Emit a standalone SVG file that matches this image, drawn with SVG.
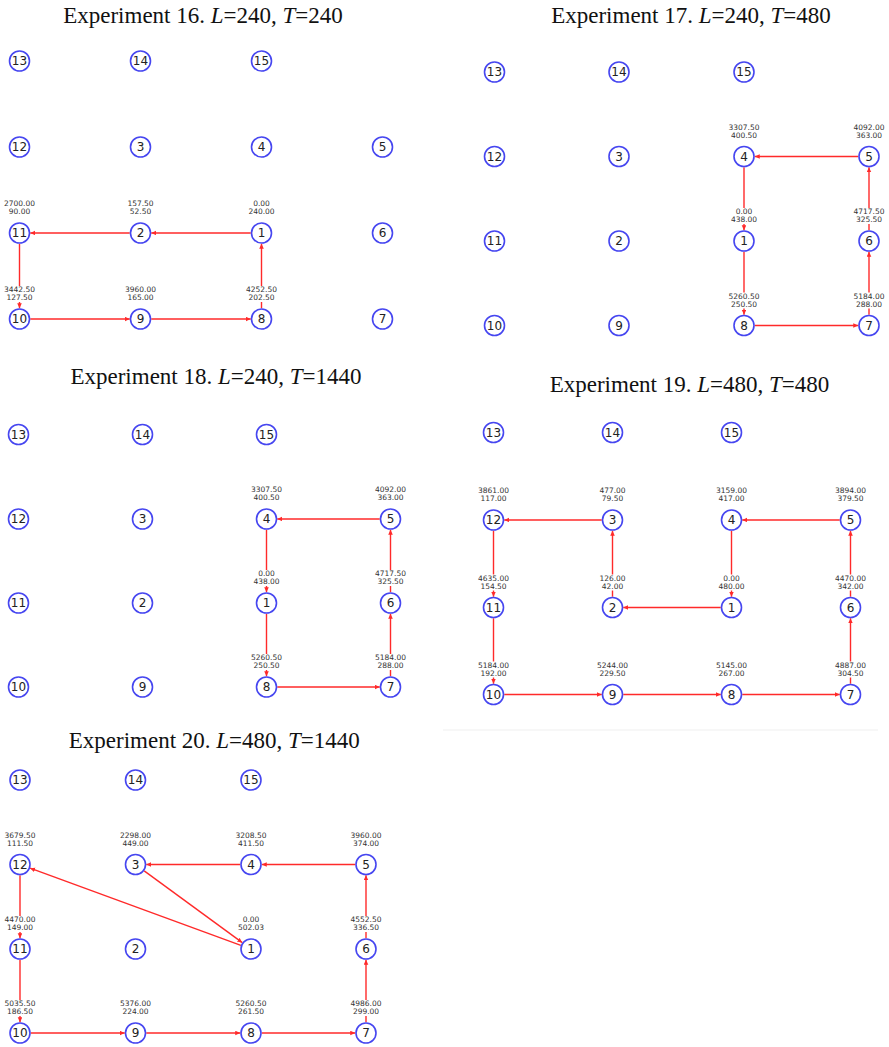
<svg xmlns="http://www.w3.org/2000/svg" width="889" height="1047" viewBox="0 0 889 1047">
<defs>
<marker id="ah" markerUnits="userSpaceOnUse" markerWidth="6" markerHeight="6" refX="5" refY="2.3" orient="auto">
<path d="M0,0 L5,2.3 L0,4.6 z" fill="#ff2a2a"/>
</marker>
<style>
.ttl{font-family:"Liberation Serif","Times New Roman",serif;font-size:23px;text-anchor:middle;fill:#111}
.ttl tspan.i{font-style:italic}
.nd circle{fill:#fff;stroke:#4646f0;stroke-width:1.6}
.nd .id{font-family:"DejaVu Sans",sans-serif;font-size:12px;text-anchor:middle;fill:#222}
.nd .lb{fill:#fff}
.nd .v{font-family:"DejaVu Sans",sans-serif;font-size:7.5px;text-anchor:middle;fill:#333}
.e{stroke:#ff2a2a;stroke-width:1.4;fill:none;marker-end:url(#ah)}
.sep{stroke:#efefef;stroke-width:1}
</style>
</defs>
<rect width="889" height="1047" fill="#fff"/>

<!-- titles -->
<g id="titles">
<text class="ttl" x="203" y="22.7">Experiment 16. <tspan class="i">L</tspan>=240, <tspan class="i">T</tspan>=240</text>
<text class="ttl" x="691" y="23.3">Experiment 17. <tspan class="i">L</tspan>=240, <tspan class="i">T</tspan>=480</text>
<text class="ttl" x="216" y="384">Experiment 18. <tspan class="i">L</tspan>=240, <tspan class="i">T</tspan>=1440</text>
<text class="ttl" x="689.5" y="391.7">Experiment 19. <tspan class="i">L</tspan>=480, <tspan class="i">T</tspan>=480</text>
<text class="ttl" x="214.3" y="747.7">Experiment 20. <tspan class="i">L</tspan>=480, <tspan class="i">T</tspan>=1440</text>
</g>
<line class="sep" x1="443" y1="730" x2="878" y2="730"/>

<!-- connectors -->
<g id="connectors">
<!-- experiment 16 -->
<path class="e" d="M250.75,233 L151.25,233"/>
<path class="e" d="M129.75,233 L30.25,233"/>
<path class="e" d="M19.5,243.75 L19.5,308.25"/>
<path class="e" d="M30.25,319 L129.75,319"/>
<path class="e" d="M151.25,319 L250.75,319"/>
<path class="e" d="M261.5,308.25 L261.5,243.75"/>
<!-- experiment 17 -->
<path class="e" d="M858.25,156.5 L754.75,156.5"/>
<path class="e" d="M744,167.25 L744,230.25"/>
<path class="e" d="M744,251.75 L744,314.75"/>
<path class="e" d="M754.75,325.5 L858.25,325.5"/>
<path class="e" d="M869,314.75 L869,251.75"/>
<path class="e" d="M869,230.25 L869,167.25"/>
<!-- experiment 18 -->
<path class="e" d="M379.75,519 L277.25,519"/>
<path class="e" d="M266.5,529.75 L266.5,592.25"/>
<path class="e" d="M266.5,613.75 L266.5,676.25"/>
<path class="e" d="M277.25,687 L379.75,687"/>
<path class="e" d="M390.5,676.25 L390.5,613.75"/>
<path class="e" d="M390.5,592.25 L390.5,529.75"/>
<!-- experiment 19 -->
<path class="e" d="M601.75,520 L504.25,520"/>
<path class="e" d="M493.5,530.75 L493.5,596.75"/>
<path class="e" d="M493.5,618.25 L493.5,683.75"/>
<path class="e" d="M504.25,694.5 L601.75,694.5"/>
<path class="e" d="M623.25,694.5 L720.75,694.5"/>
<path class="e" d="M742.25,694.5 L839.75,694.5"/>
<path class="e" d="M850.5,683.75 L850.5,618.25"/>
<path class="e" d="M850.5,596.75 L850.5,530.75"/>
<path class="e" d="M839.75,520 L742.25,520"/>
<path class="e" d="M731.5,530.75 L731.5,596.75"/>
<path class="e" d="M720.75,607.5 L623.25,607.5"/>
<path class="e" d="M612.5,596.75 L612.5,530.75"/>
<!-- experiment 20 -->
<path class="e" d="M355.25,864.5 L261.75,864.5"/>
<path class="e" d="M240.25,864.5 L146.25,864.5"/>
<path class="e" d="M144.2,870.85 L242.3,942.65"/>
<path class="e" d="M240.9,945.3 L30.1,868.2"/>
<path class="e" d="M20,875.25 L20,938.25"/>
<path class="e" d="M20,959.75 L20,1022.25"/>
<path class="e" d="M30.75,1033 L124.75,1033"/>
<path class="e" d="M146.25,1033 L240.25,1033"/>
<path class="e" d="M261.75,1033 L355.25,1033"/>
<path class="e" d="M366,1022.25 L366,959.75"/>
<path class="e" d="M366,938.25 L366,875.25"/>
</g>

<!-- experiment 16 nodes -->
<g id="e16-n13" class="nd" transform="translate(19.5,61)"><circle r="10"/><text class="id" y="4.3">13</text></g>
<g id="e16-n14" class="nd" transform="translate(140.5,61)"><circle r="10"/><text class="id" y="4.3">14</text></g>
<g id="e16-n15" class="nd" transform="translate(261.5,61)"><circle r="10"/><text class="id" y="4.3">15</text></g>
<g id="e16-n12" class="nd" transform="translate(19.5,147)"><circle r="10"/><text class="id" y="4.3">12</text></g>
<g id="e16-n3" class="nd" transform="translate(140.5,147)"><circle r="10"/><text class="id" y="4.3">3</text></g>
<g id="e16-n4" class="nd" transform="translate(261.5,147)"><circle r="10"/><text class="id" y="4.3">4</text></g>
<g id="e16-n5" class="nd" transform="translate(382.5,147)"><circle r="10"/><text class="id" y="4.3">5</text></g>
<g id="e16-n11" class="nd" transform="translate(19.5,233)"><rect class="lb" x="-18" y="-33" width="36" height="16"/><text class="v" y="-26.7">2700.00</text><text class="v" y="-19">90.00</text><circle r="10"/><text class="id" y="4.3">11</text></g>
<g id="e16-n2" class="nd" transform="translate(140.5,233)"><rect class="lb" x="-18" y="-33" width="36" height="16"/><text class="v" y="-26.7">157.50</text><text class="v" y="-19">52.50</text><circle r="10"/><text class="id" y="4.3">2</text></g>
<g id="e16-n1" class="nd" transform="translate(261.5,233)"><rect class="lb" x="-18" y="-33" width="36" height="16"/><text class="v" y="-26.7">0.00</text><text class="v" y="-19">240.00</text><circle r="10"/><text class="id" y="4.3">1</text></g>
<g id="e16-n6" class="nd" transform="translate(382.5,233)"><circle r="10"/><text class="id" y="4.3">6</text></g>
<g id="e16-n10" class="nd" transform="translate(19.5,319)"><rect class="lb" x="-18" y="-33" width="36" height="16"/><text class="v" y="-26.7">3442.50</text><text class="v" y="-19">127.50</text><circle r="10"/><text class="id" y="4.3">10</text></g>
<g id="e16-n9" class="nd" transform="translate(140.5,319)"><rect class="lb" x="-18" y="-33" width="36" height="16"/><text class="v" y="-26.7">3960.00</text><text class="v" y="-19">165.00</text><circle r="10"/><text class="id" y="4.3">9</text></g>
<g id="e16-n8" class="nd" transform="translate(261.5,319)"><rect class="lb" x="-18" y="-33" width="36" height="16"/><text class="v" y="-26.7">4252.50</text><text class="v" y="-19">202.50</text><circle r="10"/><text class="id" y="4.3">8</text></g>
<g id="e16-n7" class="nd" transform="translate(382.5,319)"><circle r="10"/><text class="id" y="4.3">7</text></g>

<!-- experiment 17 nodes -->
<g id="e17-n13" class="nd" transform="translate(494.5,72)"><circle r="10"/><text class="id" y="4.3">13</text></g>
<g id="e17-n14" class="nd" transform="translate(619,72)"><circle r="10"/><text class="id" y="4.3">14</text></g>
<g id="e17-n15" class="nd" transform="translate(744,72)"><circle r="10"/><text class="id" y="4.3">15</text></g>
<g id="e17-n12" class="nd" transform="translate(494.5,156.5)"><circle r="10"/><text class="id" y="4.3">12</text></g>
<g id="e17-n3" class="nd" transform="translate(619,156.5)"><circle r="10"/><text class="id" y="4.3">3</text></g>
<g id="e17-n4" class="nd" transform="translate(744,156.5)"><rect class="lb" x="-18" y="-33" width="36" height="16"/><text class="v" y="-26.7">3307.50</text><text class="v" y="-19">400.50</text><circle r="10"/><text class="id" y="4.3">4</text></g>
<g id="e17-n5" class="nd" transform="translate(869,156.5)"><rect class="lb" x="-18" y="-33" width="36" height="16"/><text class="v" y="-26.7">4092.00</text><text class="v" y="-19">363.00</text><circle r="10"/><text class="id" y="4.3">5</text></g>
<g id="e17-n11" class="nd" transform="translate(494.5,241)"><circle r="10"/><text class="id" y="4.3">11</text></g>
<g id="e17-n2" class="nd" transform="translate(619,241)"><circle r="10"/><text class="id" y="4.3">2</text></g>
<g id="e17-n1" class="nd" transform="translate(744,241)"><rect class="lb" x="-18" y="-33" width="36" height="16"/><text class="v" y="-26.7">0.00</text><text class="v" y="-19">438.00</text><circle r="10"/><text class="id" y="4.3">1</text></g>
<g id="e17-n6" class="nd" transform="translate(869,241)"><rect class="lb" x="-18" y="-33" width="36" height="16"/><text class="v" y="-26.7">4717.50</text><text class="v" y="-19">325.50</text><circle r="10"/><text class="id" y="4.3">6</text></g>
<g id="e17-n10" class="nd" transform="translate(494.5,325.5)"><circle r="10"/><text class="id" y="4.3">10</text></g>
<g id="e17-n9" class="nd" transform="translate(619,325.5)"><circle r="10"/><text class="id" y="4.3">9</text></g>
<g id="e17-n8" class="nd" transform="translate(744,325.5)"><rect class="lb" x="-18" y="-33" width="36" height="16"/><text class="v" y="-26.7">5260.50</text><text class="v" y="-19">250.50</text><circle r="10"/><text class="id" y="4.3">8</text></g>
<g id="e17-n7" class="nd" transform="translate(869,325.5)"><rect class="lb" x="-18" y="-33" width="36" height="16"/><text class="v" y="-26.7">5184.00</text><text class="v" y="-19">288.00</text><circle r="10"/><text class="id" y="4.3">7</text></g>

<!-- experiment 18 nodes -->
<g id="e18-n13" class="nd" transform="translate(18.5,434.5)"><circle r="10"/><text class="id" y="4.3">13</text></g>
<g id="e18-n14" class="nd" transform="translate(142.5,434.5)"><circle r="10"/><text class="id" y="4.3">14</text></g>
<g id="e18-n15" class="nd" transform="translate(266.5,434.5)"><circle r="10"/><text class="id" y="4.3">15</text></g>
<g id="e18-n12" class="nd" transform="translate(18.5,519)"><circle r="10"/><text class="id" y="4.3">12</text></g>
<g id="e18-n3" class="nd" transform="translate(142.5,519)"><circle r="10"/><text class="id" y="4.3">3</text></g>
<g id="e18-n4" class="nd" transform="translate(266.5,519)"><rect class="lb" x="-18" y="-33" width="36" height="16"/><text class="v" y="-26.7">3307.50</text><text class="v" y="-19">400.50</text><circle r="10"/><text class="id" y="4.3">4</text></g>
<g id="e18-n5" class="nd" transform="translate(390.5,519)"><rect class="lb" x="-18" y="-33" width="36" height="16"/><text class="v" y="-26.7">4092.00</text><text class="v" y="-19">363.00</text><circle r="10"/><text class="id" y="4.3">5</text></g>
<g id="e18-n11" class="nd" transform="translate(18.5,603)"><circle r="10"/><text class="id" y="4.3">11</text></g>
<g id="e18-n2" class="nd" transform="translate(142.5,603)"><circle r="10"/><text class="id" y="4.3">2</text></g>
<g id="e18-n1" class="nd" transform="translate(266.5,603)"><rect class="lb" x="-18" y="-33" width="36" height="16"/><text class="v" y="-26.7">0.00</text><text class="v" y="-19">438.00</text><circle r="10"/><text class="id" y="4.3">1</text></g>
<g id="e18-n6" class="nd" transform="translate(390.5,603)"><rect class="lb" x="-18" y="-33" width="36" height="16"/><text class="v" y="-26.7">4717.50</text><text class="v" y="-19">325.50</text><circle r="10"/><text class="id" y="4.3">6</text></g>
<g id="e18-n10" class="nd" transform="translate(18.5,687)"><circle r="10"/><text class="id" y="4.3">10</text></g>
<g id="e18-n9" class="nd" transform="translate(142.5,687)"><circle r="10"/><text class="id" y="4.3">9</text></g>
<g id="e18-n8" class="nd" transform="translate(266.5,687)"><rect class="lb" x="-18" y="-33" width="36" height="16"/><text class="v" y="-26.7">5260.50</text><text class="v" y="-19">250.50</text><circle r="10"/><text class="id" y="4.3">8</text></g>
<g id="e18-n7" class="nd" transform="translate(390.5,687)"><rect class="lb" x="-18" y="-33" width="36" height="16"/><text class="v" y="-26.7">5184.00</text><text class="v" y="-19">288.00</text><circle r="10"/><text class="id" y="4.3">7</text></g>

<!-- experiment 19 nodes -->
<g id="e19-n13" class="nd" transform="translate(493.5,432.5)"><circle r="10"/><text class="id" y="4.3">13</text></g>
<g id="e19-n14" class="nd" transform="translate(612.5,432.5)"><circle r="10"/><text class="id" y="4.3">14</text></g>
<g id="e19-n15" class="nd" transform="translate(731.5,432.5)"><circle r="10"/><text class="id" y="4.3">15</text></g>
<g id="e19-n12" class="nd" transform="translate(493.5,520)"><rect class="lb" x="-18" y="-33" width="36" height="16"/><text class="v" y="-26.7">3861.00</text><text class="v" y="-19">117.00</text><circle r="10"/><text class="id" y="4.3">12</text></g>
<g id="e19-n3" class="nd" transform="translate(612.5,520)"><rect class="lb" x="-18" y="-33" width="36" height="16"/><text class="v" y="-26.7">477.00</text><text class="v" y="-19">79.50</text><circle r="10"/><text class="id" y="4.3">3</text></g>
<g id="e19-n4" class="nd" transform="translate(731.5,520)"><rect class="lb" x="-18" y="-33" width="36" height="16"/><text class="v" y="-26.7">3159.00</text><text class="v" y="-19">417.00</text><circle r="10"/><text class="id" y="4.3">4</text></g>
<g id="e19-n5" class="nd" transform="translate(850.5,520)"><rect class="lb" x="-18" y="-33" width="36" height="16"/><text class="v" y="-26.7">3894.00</text><text class="v" y="-19">379.50</text><circle r="10"/><text class="id" y="4.3">5</text></g>
<g id="e19-n11" class="nd" transform="translate(493.5,607.5)"><rect class="lb" x="-18" y="-33" width="36" height="16"/><text class="v" y="-26.7">4635.00</text><text class="v" y="-19">154.50</text><circle r="10"/><text class="id" y="4.3">11</text></g>
<g id="e19-n2" class="nd" transform="translate(612.5,607.5)"><rect class="lb" x="-18" y="-33" width="36" height="16"/><text class="v" y="-26.7">126.00</text><text class="v" y="-19">42.00</text><circle r="10"/><text class="id" y="4.3">2</text></g>
<g id="e19-n1" class="nd" transform="translate(731.5,607.5)"><rect class="lb" x="-18" y="-33" width="36" height="16"/><text class="v" y="-26.7">0.00</text><text class="v" y="-19">480.00</text><circle r="10"/><text class="id" y="4.3">1</text></g>
<g id="e19-n6" class="nd" transform="translate(850.5,607.5)"><rect class="lb" x="-18" y="-33" width="36" height="16"/><text class="v" y="-26.7">4470.00</text><text class="v" y="-19">342.00</text><circle r="10"/><text class="id" y="4.3">6</text></g>
<g id="e19-n10" class="nd" transform="translate(493.5,694.5)"><rect class="lb" x="-18" y="-33" width="36" height="16"/><text class="v" y="-26.7">5184.00</text><text class="v" y="-19">192.00</text><circle r="10"/><text class="id" y="4.3">10</text></g>
<g id="e19-n9" class="nd" transform="translate(612.5,694.5)"><rect class="lb" x="-18" y="-33" width="36" height="16"/><text class="v" y="-26.7">5244.00</text><text class="v" y="-19">229.50</text><circle r="10"/><text class="id" y="4.3">9</text></g>
<g id="e19-n8" class="nd" transform="translate(731.5,694.5)"><rect class="lb" x="-18" y="-33" width="36" height="16"/><text class="v" y="-26.7">5145.00</text><text class="v" y="-19">267.00</text><circle r="10"/><text class="id" y="4.3">8</text></g>
<g id="e19-n7" class="nd" transform="translate(850.5,694.5)"><rect class="lb" x="-18" y="-33" width="36" height="16"/><text class="v" y="-26.7">4887.00</text><text class="v" y="-19">304.50</text><circle r="10"/><text class="id" y="4.3">7</text></g>

<!-- experiment 20 nodes -->
<g id="e20-n13" class="nd" transform="translate(20,780)"><circle r="10"/><text class="id" y="4.3">13</text></g>
<g id="e20-n14" class="nd" transform="translate(135.5,780)"><circle r="10"/><text class="id" y="4.3">14</text></g>
<g id="e20-n15" class="nd" transform="translate(251,780)"><circle r="10"/><text class="id" y="4.3">15</text></g>
<g id="e20-n12" class="nd" transform="translate(20,864.5)"><rect class="lb" x="-18" y="-33" width="36" height="16"/><text class="v" y="-26.7">3679.50</text><text class="v" y="-19">111.50</text><circle r="10"/><text class="id" y="4.3">12</text></g>
<g id="e20-n3" class="nd" transform="translate(135.5,864.5)"><rect class="lb" x="-18" y="-33" width="36" height="16"/><text class="v" y="-26.7">2298.00</text><text class="v" y="-19">449.00</text><circle r="10"/><text class="id" y="4.3">3</text></g>
<g id="e20-n4" class="nd" transform="translate(251,864.5)"><rect class="lb" x="-18" y="-33" width="36" height="16"/><text class="v" y="-26.7">3208.50</text><text class="v" y="-19">411.50</text><circle r="10"/><text class="id" y="4.3">4</text></g>
<g id="e20-n5" class="nd" transform="translate(366,864.5)"><rect class="lb" x="-18" y="-33" width="36" height="16"/><text class="v" y="-26.7">3960.00</text><text class="v" y="-19">374.00</text><circle r="10"/><text class="id" y="4.3">5</text></g>
<g id="e20-n11" class="nd" transform="translate(20,949)"><rect class="lb" x="-18" y="-33" width="36" height="16"/><text class="v" y="-26.7">4470.00</text><text class="v" y="-19">149.00</text><circle r="10"/><text class="id" y="4.3">11</text></g>
<g id="e20-n2" class="nd" transform="translate(135.5,949)"><circle r="10"/><text class="id" y="4.3">2</text></g>
<g id="e20-n1" class="nd" transform="translate(251,949)"><rect class="lb" x="-18" y="-33" width="36" height="16"/><text class="v" y="-26.7">0.00</text><text class="v" y="-19">502.03</text><circle r="10"/><text class="id" y="4.3">1</text></g>
<g id="e20-n6" class="nd" transform="translate(366,949)"><rect class="lb" x="-18" y="-33" width="36" height="16"/><text class="v" y="-26.7">4552.50</text><text class="v" y="-19">336.50</text><circle r="10"/><text class="id" y="4.3">6</text></g>
<g id="e20-n10" class="nd" transform="translate(20,1033)"><rect class="lb" x="-18" y="-33" width="36" height="16"/><text class="v" y="-26.7">5035.50</text><text class="v" y="-19">186.50</text><circle r="10"/><text class="id" y="4.3">10</text></g>
<g id="e20-n9" class="nd" transform="translate(135.5,1033)"><rect class="lb" x="-18" y="-33" width="36" height="16"/><text class="v" y="-26.7">5376.00</text><text class="v" y="-19">224.00</text><circle r="10"/><text class="id" y="4.3">9</text></g>
<g id="e20-n8" class="nd" transform="translate(251,1033)"><rect class="lb" x="-18" y="-33" width="36" height="16"/><text class="v" y="-26.7">5260.50</text><text class="v" y="-19">261.50</text><circle r="10"/><text class="id" y="4.3">8</text></g>
<g id="e20-n7" class="nd" transform="translate(366,1033)"><rect class="lb" x="-18" y="-33" width="36" height="16"/><text class="v" y="-26.7">4986.00</text><text class="v" y="-19">299.00</text><circle r="10"/><text class="id" y="4.3">7</text></g>
</svg>
